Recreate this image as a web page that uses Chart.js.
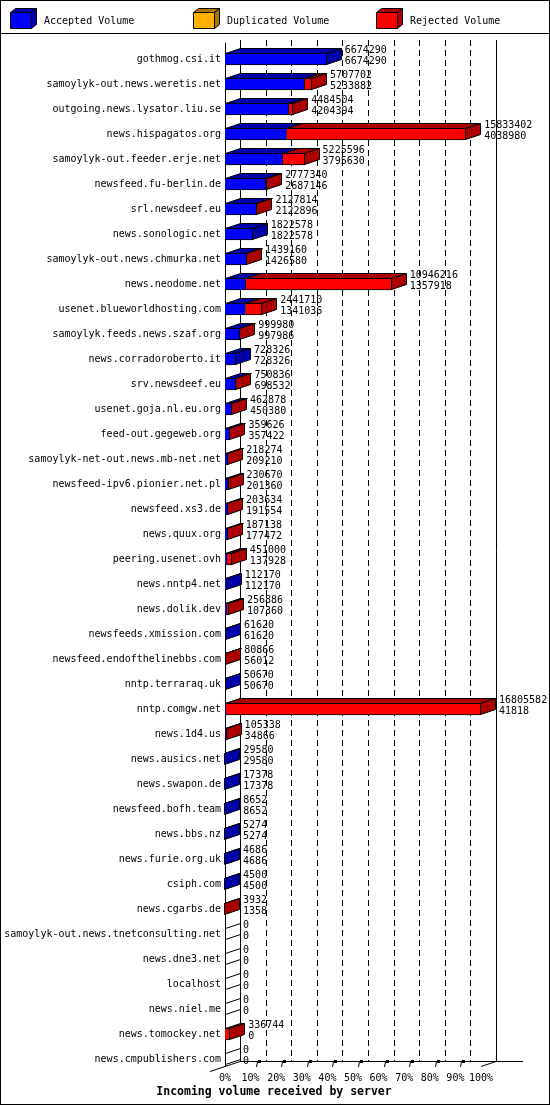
<!DOCTYPE html>
<html>
<head>
<meta charset="utf-8">
<script src="https://cdn.jsdelivr.net/npm/chart.js@4.4.1/dist/chart.umd.min.js"></script>
<style>
html,body{margin:0;padding:0;background:#fff}
canvas{display:block}
</style>
</head>
<body>
<canvas id="chart" width="550" height="1105"></canvas>
<script>
const hosts = [
  'gothmog.csi.it','samoylyk-out.news.weretis.net','outgoing.news.lysator.liu.se','news.hispagatos.org',
  'samoylyk-out.feeder.erje.net','newsfeed.fu-berlin.de','srl.newsdeef.eu','news.sonologic.net',
  'samoylyk-out.news.chmurka.net','news.neodome.net','usenet.blueworldhosting.com','samoylyk.feeds.news.szaf.org',
  'news.corradoroberto.it','srv.newsdeef.eu','usenet.goja.nl.eu.org','feed-out.gegeweb.org',
  'samoylyk-net-out.news.mb-net.net','newsfeed-ipv6.pionier.net.pl','newsfeed.xs3.de','news.quux.org',
  'peering.usenet.ovh','news.nntp4.net','news.dolik.dev','newsfeeds.xmission.com',
  'newsfeed.endofthelinebbs.com','nntp.terraraq.uk','nntp.comgw.net','news.1d4.us',
  'news.ausics.net','news.swapon.de','newsfeed.bofh.team','news.bbs.nz',
  'news.furie.org.uk','csiph.com','news.cgarbs.de','samoylyk-out.news.tnetconsulting.net',
  'news.dne3.net','localhost','news.niel.me','news.tomockey.net','news.cmpublishers.com'
];
// top number of each row
const totalVolume = [
  6674290,5707702,4484504,15833402,5225596,2777340,2127814,1822578,
  1439160,10946216,2441710,999980,728326,750836,462878,359626,
  218274,230670,203634,187138,451000,112170,256886,61620,
  80866,50670,16805582,105338,29580,17378,8652,5274,
  4686,4500,3932,0,0,0,0,336744,0
];
// bottom number of each row
const acceptedVolume = [
  6674290,5233882,4204394,4038980,3795630,2687146,2122896,1822578,
  1426580,1357918,1341036,997986,728326,698532,450380,357422,
  209210,201360,191554,177472,137928,112170,107360,61620,
  56012,50670,41818,34866,29580,17378,8652,5274,
  4686,4500,1358,0,0,0,0,0,0
];
const duplicatedVolume = [
  0,0,0,0,0,0,0,0,0,0,0,0,0,0,0,0,0,0,0,0,
  0,0,0,0,0,0,0,0,0,0,0,0,0,0,0,0,0,0,0,0,0
];
const rejectedVolume = [
  0,473820,280110,11794422,1429966,90194,4918,0,
  12580,9588298,1100674,1994,0,52304,12498,2204,
  9064,29310,12080,9666,313072,0,149526,0,
  24854,0,16763764,70472,0,0,0,0,
  0,0,2574,0,0,0,0,336744,0
];
const tickPercent = [0,10,20,30,40,50,60,70,80,90,100];
const axisTitle = 'Incoming volume received by server';

const FONT = 'DejaVu Sans Mono';
const DX = 15, DY = 5;
const maxVolume = Math.max(...totalVolume);

const series = [
  {label:'Accepted Volume', data:acceptedVolume, backgroundColor:'#0000ff', shade:'#0000aa'},
  {label:'Duplicated Volume', data:duplicatedVolume, backgroundColor:'#ffb000', shade:'#aa7600'},
  {label:'Rejected Volume', data:rejectedVolume, backgroundColor:'#ff0000', shade:'#aa0000'}
];

function poly(ctx, pts, fill) {
  ctx.beginPath();
  pts.forEach((p,i)=> i ? ctx.lineTo(p[0],p[1]) : ctx.moveTo(p[0],p[1]));
  ctx.closePath();
  if (fill) { ctx.fillStyle = fill; ctx.fill(); }
  ctx.strokeStyle = '#000'; ctx.lineWidth = 1; ctx.stroke();
}
function line(ctx, x1, y1, x2, y2) {
  ctx.beginPath(); ctx.moveTo(x1,y1); ctx.lineTo(x2,y2); ctx.stroke();
}

const gd3d = {
  id:'gd3d',
  beforeDraw(chart) {
    const ctx = chart.ctx;
    ctx.save();
    ctx.strokeStyle = '#000'; ctx.lineWidth = 1;
    ctx.strokeRect(0.5, 0.5, chart.width-1, chart.height-1);
    line(ctx, 0, 33.5, chart.width, 33.5);
    // legend boxes
    const legendX = [10, 193, 376];
    ctx.font = `10px ${FONT}`; ctx.textBaseline = 'middle'; ctx.textAlign = 'left';
    chart.data.datasets.forEach((ds,i)=>{
      const x = legendX[i] + 0.5, y = 12.5, w = 21, h = 16;
      poly(ctx, [[x,y],[x+w,y],[x+w+5,y-4],[x+5,y-4]], ds.shade);
      poly(ctx, [[x+w,y],[x+w+5,y-4],[x+w+5,y+h-4],[x+w,y+h]], ds.shade);
      poly(ctx, [[x,y],[x+w,y],[x+w,y+h],[x,y+h]], ds.backgroundColor);
      ctx.fillStyle = '#000';
      ctx.fillText(ds.label, legendX[i] + 34, 21);
    });
    ctx.restore();
  },
  beforeDatasetsDraw(chart) {
    const ctx = chart.ctx, xs = chart.scales.x, a = chart.chartArea;
    const x0 = Math.round(xs.getPixelForValue(0));
    const x100 = Math.round(xs.getPixelForValue(maxVolume));
    const backTop = a.top - 6.5, frontBot = Math.round(a.bottom) - 6 + 0.5, backBot = frontBot - DY;
    ctx.save();
    ctx.strokeStyle = '#000'; ctx.lineWidth = 1;
    ctx.setLineDash([6,4]);
    xs.ticks.forEach(t=>{
      if (t.value <= 0 || t.value >= maxVolume) return;
      const px = Math.round(xs.getPixelForValue(t.value)) + DX + 0.5;
      line(ctx, px, backTop, px, backBot);
    });
    ctx.setLineDash([]);
    line(ctx, x0 + DX + 0.5, backTop, x0 + DX + 0.5, backBot);
    line(ctx, x100 + DX + 0.5, backTop, x100 + DX + 0.5, backBot);
    line(ctx, x0 + 0.5, a.top - 3.5, x0 + 0.5, frontBot);
    // floor
    line(ctx, x0 - DX, frontBot + DY, x0 + DX, backBot);
    line(ctx, x0 + DX, backBot, x100 + DX + 27, backBot);
    line(ctx, x100, frontBot, x100 + DX, backBot);
    ctx.fillStyle = '#000';
    xs.ticks.forEach(t=>{
      if (t.value <= 0 || t.value >= maxVolume) return;
      const px = Math.round(xs.getPixelForValue(t.value));
      line(ctx, px + 5.5, frontBot + 0.5, px + 6.5, backBot);
      ctx.fillRect(px + 7, backBot - 1.5, 3, 3);
    });
    ctx.restore();
  },
  afterDatasetsDraw(chart) {
    const ctx = chart.ctx, xs = chart.scales.x, ys = chart.scales.y;
    const sets = chart.data.datasets;
    const metas = sets.map((d,i)=>chart.getDatasetMeta(i));
    ctx.save();
    hosts.forEach((h,row)=>{
      let last = -1;
      sets.forEach((ds,di)=>{ if (ds.data[row] > 0) last = di; });
      sets.forEach((ds,di)=>{
        if (!(ds.data[row] > 0)) return;
        const p = metas[di].data[row].getProps(['x','y','base','height'], true);
        const yt = Math.round(p.y - p.height/2) + 0.5;
        const l = Math.round(p.base) + 0.5, r = Math.round(p.x) - 0.5;
        poly(ctx, [[l,yt],[r,yt],[r+DX,yt-DY],[l+DX,yt-DY]], ds.shade);
      });
      const di = last >= 0 ? last : 0;
      const p = metas[di].data[row].getProps(['x','y','base','height'], true);
      const yt = Math.round(p.y - p.height/2) + 0.5, yb = Math.round(p.y + p.height/2) - 0.5;
      const r = last >= 0 ? Math.round(p.x) - 0.5 : Math.round(xs.getPixelForValue(0)) + 0.5;
      poly(ctx, [[r,yt],[r+DX,yt-DY],[r+DX,yb-DY],[r,yb]], last >= 0 ? sets[last].shade : '#fff');
    });
    ctx.font = `10px ${FONT}`; ctx.fillStyle = '#000';
    ctx.textAlign = 'left'; ctx.textBaseline = 'middle';
    hosts.forEach((h,row)=>{
      const c = ys.getPixelForValue(row);
      const tx = xs.getPixelForValue(totalVolume[row]) + DX + 3;
      ctx.fillText(String(totalVolume[row]), tx, c - 9);
      ctx.fillText(String(acceptedVolume[row]), tx, c + 2);
    });
    ctx.restore();
  },
  afterDraw(chart) {
    const ctx = chart.ctx;
    ctx.save();
    ctx.font = `bold 11.5px ${FONT}`; ctx.fillStyle = '#000';
    ctx.textAlign = 'center'; ctx.textBaseline = 'middle';
    ctx.fillText(axisTitle, 274, 1092);
    ctx.restore();
  }
};

new Chart(document.getElementById('chart'), {
  type:'bar',
  data:{
    labels:hosts,
    datasets:series.map(s=>({...s, stack:'vol', barThickness:12, borderColor:'#000', borderWidth:1, borderSkipped:'start'}))
  },
  options:{
    indexAxis:'y', responsive:false, animation:false, devicePixelRatio:1,
    layout:{padding:{top:46.5, right:69, bottom:0, left:0}},
    plugins:{legend:{display:false}, tooltip:{enabled:false}},
    scales:{
      x:{
        stacked:true, min:0, max:maxVolume,
        grid:{display:false, drawTicks:false}, border:{display:false},
        afterBuildTicks(axis){ axis.ticks = tickPercent.map(p=>({value:maxVolume*p/100})); },
        afterFit(axis){ axis.height = 33.5; },
        ticks:{color:'#000', font:{family:FONT, size:10}, padding:1, maxRotation:0, autoSkip:false,
          callback:(v,i)=>tickPercent[i] + '%'}
      },
      y:{
        stacked:true,
        grid:{display:false, drawTicks:false}, border:{display:false},
        afterFit(axis){ axis.width = 225; },
        ticks:{color:'#000', font:{family:FONT, size:10}, padding:4, autoSkip:false}
      }
    }
  },
  plugins:[gd3d]
});
</script>
</body>
</html>
